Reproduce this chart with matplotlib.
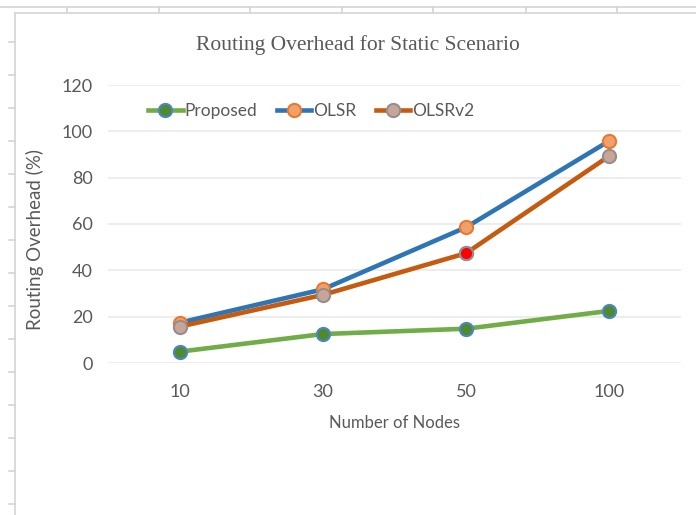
import matplotlib.pyplot as plt
from matplotlib.lines import Line2D

W, H = 696, 515

nodes = ["10", "30", "50", "100"]
proposed = [4.9, 12.5, 14.8, 22.5]
olsr = [17.4, 31.8, 58.6, 95.9]
olsrv2 = [15.7, 29.4, 47.4, 89.4]
y_ticks = [0, 20, 40, 60, 80, 100, 120]

narrow = ["Lato", "DejaVu Sans"]
grey_txt = "#595959"

fig = plt.figure(figsize=(W / 100, H / 100), dpi=100)


def px(x, y):
    return x / W, 1 - y / H


# sheet-like frame around the chart
frame_col = "#d4d4d4"
def fline(x0, y0, x1, y1, lw=1.2):
    (a, b), (c, d) = px(x0, y0), px(x1, y1)
    fig.add_artist(Line2D([a, c], [b, d], color=frame_col, lw=lw,
                          transform=fig.transFigure))

fline(0, 7, W, 7)
fline(15, 13, W, 13)
fline(15, 13, 15, H)
for tx in [67, 159, 250, 342, 433, 526, 617]:
    fline(tx, 7, tx, 13)
for ty in range(42, H, 33):
    fline(9, ty, 15, ty)

ax = fig.add_axes([108 / W, 1 - 363 / H, (681 - 108) / W, (363 - 85) / H])
x = range(len(nodes))

ax.plot(x, proposed, color="#70ad47", lw=3.3, marker="o", ms=9.5,
        mfc="#4f8a2c", mec="#4a86c8", mew=1.5, label="Proposed", zorder=3)
ax.plot(x, olsr, color="#2e75b6", lw=3.3, marker="o", ms=9.5,
        mfc="#f0a06a", mec="#e8792f", mew=1.5, label="OLSR", zorder=4)
ax.plot(x, olsrv2, color="#c55a11", lw=3.3, marker="o", ms=9.5,
        mfc="#c9a597", mec="#909090", mew=1.5, label="OLSRv2", zorder=5)
# highlighted point at 50 nodes
ax.plot([2], [olsrv2[2]], marker="o", ms=9.5, mfc="#ff0000", mec="#909090",
        mew=1.5, ls="none", zorder=6)

ax.set_xlim(-0.5, len(nodes) - 0.5)
ax.set_ylim(0, 120)
ax.set_xticks(list(x))
ax.set_xticklabels(nodes)
ax.set_yticks(y_ticks)
ax.grid(axis="y", color="#ececec", lw=1.3)
ax.set_axisbelow(True)
for s in ax.spines.values():
    s.set_visible(False)
ax.tick_params(length=0, colors=grey_txt, labelsize=13)
ax.tick_params(axis="x", pad=15)
ax.tick_params(axis="y", pad=11)
for lab in ax.get_xticklabels() + ax.get_yticklabels():
    lab.set_family(narrow)

ax.set_xlabel("Number of Nodes", family=narrow, color=grey_txt,
              fontsize=12, labelpad=11)
fig.text(*px(35, 240), "Routing Overhead (%)", rotation=90, ha="center",
         va="center", family=narrow, color=grey_txt, fontsize=13.5)

fig.text(*px(358, 45), "Routing Overhead for Static Scenario", ha="center",
         va="center", family=["Liberation Serif", "DejaVu Serif"],
         color="#595959", fontsize=15.5)

leg = ax.legend(loc="center left", bbox_to_anchor=px(148, 111),
                bbox_transform=fig.transFigure, ncol=3, frameon=False,
                handlelength=2.0, handletextpad=0.12, columnspacing=1.1,
                borderpad=0, borderaxespad=0,
                prop={"family": narrow, "size": 12.5})
for t in leg.get_texts():
    t.set_color(grey_txt)

fig.savefig("out.png", dpi=100, facecolor="white")
